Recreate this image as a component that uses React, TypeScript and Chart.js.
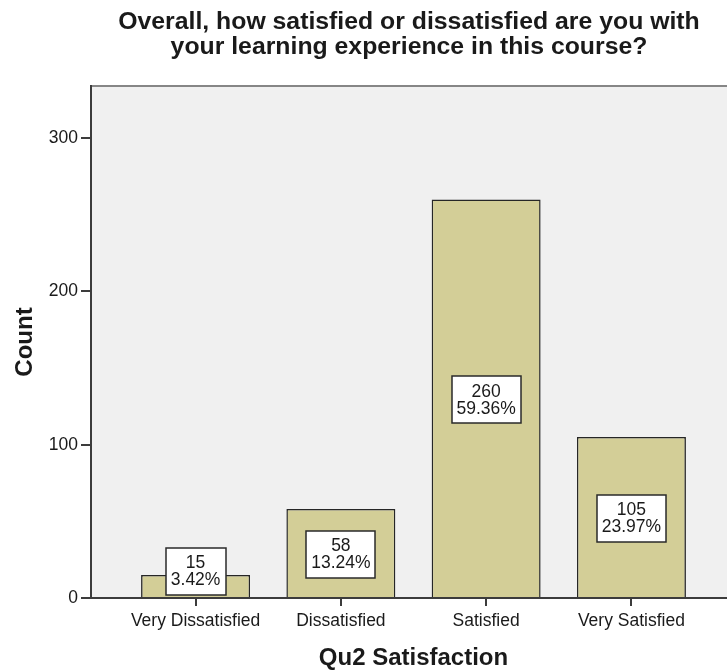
import React, { useEffect, useRef } from "react";
import { Chart, registerables } from "chart.js";

Chart.register(...registerables);

// Survey responses
const categories = ["Very Dissatisfied", "Dissatisfied", "Satisfied", "Very Satisfied"];
const counts = [15, 58, 260, 105];
const yTicks = [0, 100, 200, 300];
const titleLines = [
  "Overall, how satisfied or dissatisfied are you with",
  "your learning experience in this course?",
];
const xTitle = "Qu2 Satisfaction";
const yTitle = "Count";

// Canvas and plot geometry
const W = 760;
const H = 673;
const PLOT_TOP = 86;
const PLOT_BOTTOM = 598;
const PLOT_LEFT = 91;
const PLOT_RIGHT = 736;

const FAMILY = "'Liberation Sans', Arial, Helvetica, sans-serif";
const TEXT = "#1a1a1a";
const AXIS = "#3c3c3c";
const FRAME = "#868686";
const PLOT_BG = "#f0f0f0";
const BAR_FILL = "#d3ce97";
const BAR_EDGE = "#262626";

const framePlugin = {
  id: "plotFrame",
  beforeDraw(chart: any) {
    const { ctx, chartArea: a } = chart;
    ctx.save();
    ctx.fillStyle = PLOT_BG;
    ctx.fillRect(a.left, a.top, a.right - a.left, a.bottom - a.top);
    ctx.strokeStyle = FRAME;
    ctx.lineWidth = 2;
    ctx.beginPath();
    ctx.moveTo(a.left, a.top);
    ctx.lineTo(a.right, a.top);
    ctx.lineTo(a.right, a.bottom);
    ctx.stroke();
    ctx.restore();
  },
};

const headingPlugin = {
  id: "heading",
  afterDraw(chart: any) {
    const { ctx } = chart;
    ctx.save();
    ctx.fillStyle = TEXT;
    ctx.font = `bold 24.8px ${FAMILY}`;
    ctx.textAlign = "center";
    ctx.textBaseline = "alphabetic";
    titleLines.forEach((line, i) => ctx.fillText(line, 409, 28.5 + i * 25));
    ctx.restore();
  },
};

const valueBoxPlugin = {
  id: "valueBoxes",
  afterDraw(chart: any) {
    const { ctx } = chart;
    const total = counts.reduce((a, b) => a + b, 0);
    const meta = chart.getDatasetMeta(0);
    ctx.save();
    ctx.font = `17.5px ${FAMILY}`;
    ctx.textAlign = "center";
    ctx.textBaseline = "middle";
    meta.data.forEach((bar: any, i: number) => {
      const { x, y, base } = bar.getProps(["x", "y", "base"], true);
      const lines = [String(counts[i]), ((counts[i] / total) * 100).toFixed(2) + "%"];
      const w = Math.round(Math.max(...lines.map((t) => ctx.measureText(t).width)) + 10);
      const h = 47;
      let cy = (y + base) / 2 + 1.5;
      if (cy + h / 2 > base - 2) cy = base - 2 - h / 2;
      const left = Math.round(x - w / 2);
      const top = Math.round(cy - h / 2);
      ctx.fillStyle = "#ffffff";
      ctx.fillRect(left, top, w, h);
      ctx.strokeStyle = "#2a2a2a";
      ctx.lineWidth = 1.5;
      ctx.strokeRect(left, top, w, h);
      ctx.fillStyle = TEXT;
      ctx.fillText(lines[0], x, cy - 8);
      ctx.fillText(lines[1], x, cy + 9);
    });
    ctx.restore();
  },
};

export default function App() {
  const ref = useRef<HTMLCanvasElement>(null);

  useEffect(() => {
    const canvas = ref.current;
    if (!canvas) return;
    const tickFont = { family: FAMILY, size: 17.5 };
    const titleFont = { family: FAMILY, size: 24, weight: "bold" as const };

    const chart = new Chart(canvas, {
      type: "bar",
      data: {
        datasets: [
          {
            data: categories.map((_, i) => ({ x: i, y: counts[i] })),
            backgroundColor: BAR_FILL,
            borderColor: BAR_EDGE,
            borderWidth: 1.5,
            barPercentage: 0.75,
            categoryPercentage: 1,
          },
        ],
      },
      options: {
        responsive: false,
        animation: false,
        devicePixelRatio: 1,
        layout: { padding: { top: PLOT_TOP, right: W - PLOT_RIGHT, bottom: 0, left: 0 } },
        plugins: {
          legend: { display: false },
          title: { display: false },
          tooltip: { enabled: false },
        },
        scales: {
          x: {
            type: "linear",
            min: -0.72,
            max: 3.72,
            offset: false,
            z: 1,
            afterBuildTicks: (s: any) => {
              s.ticks = categories.map((_, i) => ({ value: i }));
            },
            afterFit: (s: any) => {
              s.height = H - PLOT_BOTTOM;
            },
            ticks: {
              callback: (v: any) => categories[v] ?? "",
              font: tickFont,
              color: TEXT,
              padding: 5,
              maxRotation: 0,
              minRotation: 0,
              autoSkip: false,
            },
            grid: {
              drawOnChartArea: false,
              drawTicks: true,
              tickLength: 8,
              color: AXIS,
              lineWidth: 2,
              offset: false,
            },
            border: { display: true, color: AXIS, width: 2 },
            title: {
              display: true,
              text: xTitle,
              font: titleFont,
              color: TEXT,
              padding: { top: 0, bottom: 0 },
            },
          },
          y: {
            type: "linear",
            min: 0,
            max: 334,
            z: 1,
            afterBuildTicks: (s: any) => {
              s.ticks = yTicks.map((v) => ({ value: v }));
            },
            afterFit: (s: any) => {
              s.width = PLOT_LEFT;
            },
            ticks: { font: tickFont, color: TEXT, padding: 3 },
            grid: {
              drawOnChartArea: false,
              drawTicks: true,
              tickLength: 10,
              color: AXIS,
              lineWidth: 2,
            },
            border: { display: true, color: AXIS, width: 2 },
            title: {
              display: true,
              text: yTitle,
              font: titleFont,
              color: TEXT,
              padding: { top: 10.5, bottom: 0 },
            },
          },
        },
      },
      plugins: [framePlugin, headingPlugin, valueBoxPlugin],
    } as any);

    return () => chart.destroy();
  }, []);

  return (
    <div
      style={{
        position: "absolute",
        left: 0,
        top: 0,
        width: 727,
        height: 671,
        overflow: "hidden",
        background: "#ffffff",
      }}
    >
      <canvas ref={ref} width={W} height={H} style={{ display: "block" }} />
    </div>
  );
}
